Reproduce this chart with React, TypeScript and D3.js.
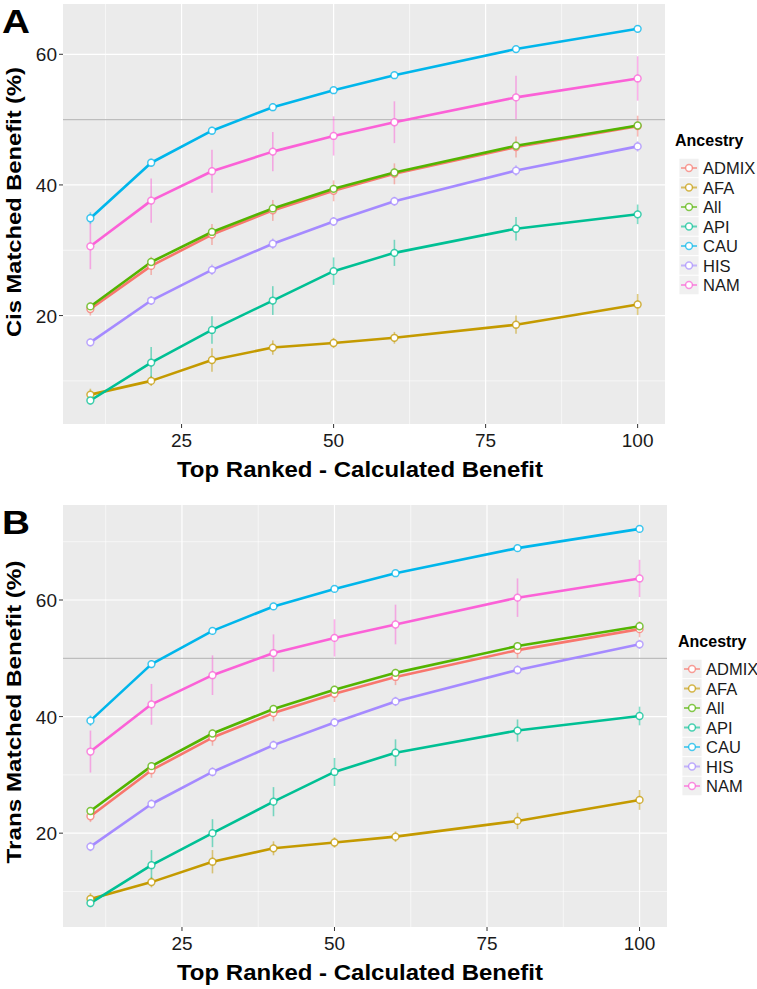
import React, { useEffect, useRef } from "react";
import * as d3 from "d3";

const ranks = [10, 20, 30, 40, 50, 60, 80, 100];
const ancestries = ["ADMIX", "AFA", "All", "API", "CAU", "HIS", "NAM"];
const colors = ["#F8766D", "#C49A00", "#53B400", "#00C094", "#00B6EB", "#A58AFF", "#FB61D7"];
const xTicks = [25, 50, 75, 100];
const xMinor = [12.5, 37.5, 62.5, 87.5];
const yTicks = [20, 40, 60];
const yMinor = [10, 30, 50, 70];

// A: cis matched benefit (%)
const cisADMIX = [21.0, 27.6, 32.4, 36.1, 39.1, 41.7, 45.8, 49.0];
const cisAFA = [7.9, 10.0, 13.2, 15.1, 15.8, 16.6, 18.6, 21.7];
const cisAll = [21.4, 28.2, 32.8, 36.4, 39.4, 41.9, 46.0, 49.1];
const cisAPI = [7.0, 12.8, 17.8, 22.3, 26.8, 29.6, 33.3, 35.5];
const cisCAU = [34.9, 43.4, 48.3, 51.9, 54.5, 56.8, 60.8, 63.9];
const cisHIS = [15.9, 22.3, 27.0, 31.0, 34.4, 37.5, 42.2, 45.9];
const cisNAM = [30.6, 37.6, 42.1, 45.1, 47.5, 49.6, 53.4, 56.3];

const cisErrADMIX = [1.0, 1.4, 1.6, 1.6, 1.6, 1.6, 1.6, 1.6];
const cisErrAFA = [0.9, 0.8, 1.8, 1.1, 0.8, 0.9, 1.4, 1.6];
const cisErrAll = [0.4, 0.5, 0.5, 0.5, 0.5, 0.5, 0.5, 0.5];
const cisErrAPI = [0.6, 2.4, 2.1, 2.2, 2.1, 2.0, 1.8, 1.5];
const cisErrCAU = [0.9, 0.6, 0.6, 0.6, 0.5, 0.5, 0.5, 0.5];
const cisErrHIS = [0.6, 0.7, 0.8, 0.8, 0.7, 0.7, 0.8, 0.8];
const cisErrNAM = [3.5, 3.4, 3.3, 3.0, 3.0, 3.2, 3.3, 3.4];

// B: trans matched benefit (%)
const transADMIX = [22.9, 30.8, 36.4, 40.6, 43.9, 46.8, 51.4, 55.0];
const transAFA = [8.7, 11.6, 15.1, 17.4, 18.4, 19.4, 22.1, 25.7];
const transAll = [23.8, 31.5, 37.1, 41.3, 44.6, 47.5, 52.1, 55.5];
const transAPI = [8.0, 14.5, 20.0, 25.4, 30.5, 33.8, 37.6, 40.1];
const transCAU = [39.3, 49.0, 54.7, 58.9, 61.9, 64.6, 68.9, 72.2];
const transHIS = [17.7, 25.0, 30.5, 35.1, 39.0, 42.6, 48.0, 52.4];
const transNAM = [34.0, 42.1, 47.1, 50.9, 53.5, 55.8, 60.4, 63.7];

const transErrADMIX = [1.0, 1.3, 1.4, 1.4, 1.4, 1.4, 1.4, 1.4];
const transErrAFA = [1.0, 0.9, 2.0, 1.2, 0.9, 0.9, 1.4, 1.7];
const transErrAll = [0.5, 0.5, 0.5, 0.5, 0.5, 0.5, 0.5, 0.5];
const transErrAPI = [0.7, 2.6, 2.4, 2.5, 2.4, 2.3, 1.9, 1.6];
const transErrCAU = [0.9, 0.7, 0.6, 0.6, 0.5, 0.5, 0.5, 0.5];
const transErrHIS = [0.8, 0.8, 0.8, 0.8, 0.8, 0.8, 0.8, 0.8];
const transErrNAM = [3.6, 3.5, 3.4, 3.2, 3.2, 3.4, 3.3, 3.2];

const FONT = "'Liberation Sans', Arial, sans-serif";

function drawPanel(svg, p) {
  const g = svg.append("g");
  const x = d3.scaleLinear().domain([5.5, 104.5]).range([p.left, p.right]);
  const y = d3.scaleLinear().domain(p.yDomain).range([p.bottom, p.top]);

  g.append("rect")
    .attr("x", p.left)
    .attr("y", p.top)
    .attr("width", p.right - p.left)
    .attr("height", p.bottom - p.top)
    .attr("fill", "#EBEBEB");

  const yMin = yMinor.filter((v) => v > p.yDomain[0] && v < p.yDomain[1]);
  g.selectAll(".ymin").data(yMin).join("line")
    .attr("x1", p.left).attr("x2", p.right)
    .attr("y1", (d) => y(d)).attr("y2", (d) => y(d))
    .attr("stroke", "#fff").attr("stroke-width", 0.6);
  g.selectAll(".xmin").data(xMinor).join("line")
    .attr("x1", (d) => x(d)).attr("x2", (d) => x(d))
    .attr("y1", p.top).attr("y2", p.bottom)
    .attr("stroke", "#fff").attr("stroke-width", 0.6);
  g.selectAll(".ymaj").data(yTicks).join("line")
    .attr("x1", p.left).attr("x2", p.right)
    .attr("y1", (d) => y(d)).attr("y2", (d) => y(d))
    .attr("stroke", "#fff").attr("stroke-width", 1.2);
  g.selectAll(".xmaj").data(xTicks).join("line")
    .attr("x1", (d) => x(d)).attr("x2", (d) => x(d))
    .attr("y1", p.top).attr("y2", p.bottom)
    .attr("stroke", "#fff").attr("stroke-width", 1.2);

  // reference line at 50%
  g.append("line")
    .attr("x1", p.left).attr("x2", p.right)
    .attr("y1", y(50)).attr("y2", y(50))
    .attr("stroke", "#BDBDBD").attr("stroke-width", 1.3);

  const line = d3.line().x((d, i) => x(ranks[i])).y((d) => y(d));

  p.series.forEach((s, k) => {
    const c = colors[k];
    g.selectAll(null).data(s.values).join("line")
      .attr("x1", (d, i) => x(ranks[i])).attr("x2", (d, i) => x(ranks[i]))
      .attr("y1", (d, i) => y(d - s.err[i])).attr("y2", (d, i) => y(d + s.err[i]))
      .attr("stroke", c).attr("stroke-opacity", 0.5).attr("stroke-width", 1.6);
    g.append("path")
      .attr("d", line(s.values))
      .attr("fill", "none").attr("stroke", c).attr("stroke-width", 2.6)
      .attr("stroke-linejoin", "round");
  });
  p.series.forEach((s, k) => {
    const c = colors[k];
    g.selectAll(null).data(s.values).join("circle")
      .attr("cx", (d, i) => x(ranks[i])).attr("cy", (d) => y(d))
      .attr("r", 3.4)
      .attr("fill", "#fff").attr("stroke", c).attr("stroke-opacity", 0.75)
      .attr("stroke-width", 1.5);
  });

  // axes ticks and labels
  g.selectAll(".yt").data(yTicks).join("line")
    .attr("x1", p.left - 4).attr("x2", p.left)
    .attr("y1", (d) => y(d)).attr("y2", (d) => y(d))
    .attr("stroke", "#333").attr("stroke-width", 1);
  g.selectAll(".yl").data(yTicks).join("text")
    .attr("x", p.left - 6).attr("y", (d) => y(d) + 7)
    .attr("text-anchor", "end")
    .style("font", `19px ${FONT}`).attr("fill", "#1a1a1a")
    .text((d) => d);
  g.selectAll(".xt").data(xTicks).join("line")
    .attr("x1", (d) => x(d)).attr("x2", (d) => x(d))
    .attr("y1", p.bottom).attr("y2", p.bottom + 4)
    .attr("stroke", "#333").attr("stroke-width", 1);
  g.selectAll(".xl").data(xTicks).join("text")
    .attr("x", (d) => x(d)).attr("y", p.bottom + 23)
    .attr("text-anchor", "middle")
    .style("font", `19px ${FONT}`).attr("fill", "#1a1a1a")
    .text((d) => d);

  g.append("text")
    .attr("x", 177).attr("y", p.bottom + 53)
    .attr("textLength", 366).attr("lengthAdjust", "spacingAndGlyphs")
    .style("font", `bold 22px ${FONT}`)
    .text("Top Ranked - Calculated Benefit");
  g.append("text")
    .attr("transform", `translate(21,${p.yTitleMid}) rotate(-90)`)
    .attr("x", -p.yTitleLen / 2)
    .attr("textLength", p.yTitleLen).attr("lengthAdjust", "spacingAndGlyphs")
    .style("font", `bold 21px ${FONT}`)
    .text(p.yTitle);
  g.append("text")
    .attr("x", 2).attr("y", p.top + 29)
    .attr("textLength", 28).attr("lengthAdjust", "spacingAndGlyphs")
    .style("font", `bold 33px ${FONT}`)
    .text(p.tag);

  // legend
  const lg = g.append("g").attr("transform", `translate(${p.legendX},${p.legendY})`);
  lg.append("text").attr("x", 0).attr("y", 0)
    .style("font", `bold 16px ${FONT}`).text("Ancestry");
  const rowH = 19.5;
  ancestries.forEach((a, k) => {
    const cy = 22 + k * rowH;
    lg.append("rect")
      .attr("x", 4).attr("y", cy - rowH / 2)
      .attr("width", 20).attr("height", rowH)
      .attr("fill", "#F0F0F0").attr("stroke", "#fff").attr("stroke-width", 0.8);
    lg.append("line")
      .attr("x1", 6).attr("x2", 22).attr("y1", cy).attr("y2", cy)
      .attr("stroke", colors[k]).attr("stroke-opacity", 0.6).attr("stroke-width", 2);
    lg.append("circle")
      .attr("cx", 14).attr("cy", cy).attr("r", 3.4)
      .attr("fill", "#fff").attr("stroke", colors[k]).attr("stroke-opacity", 0.7)
      .attr("stroke-width", 1.5);
    lg.append("text")
      .attr("x", 28).attr("y", cy + 6)
      .style("font", `16.5px ${FONT}`).attr("fill", "#1a1a1a")
      .text(a);
  });
}

export default function App() {
  const svgRef = useRef(null);

  useEffect(() => {
    const svg = d3.select(svgRef.current);
    svg.selectAll("*").remove();

    drawPanel(svg, {
      tag: "A",
      yTitle: "Cis Matched Benefit (%)",
      yTitleMid: 202, yTitleLen: 270,
      left: 63, right: 665, top: 4, bottom: 424,
      yDomain: [3.4, 67.7],
      legendX: 675, legendY: 146,
      series: [
        { values: cisADMIX, err: cisErrADMIX },
        { values: cisAFA, err: cisErrAFA },
        { values: cisAll, err: cisErrAll },
        { values: cisAPI, err: cisErrAPI },
        { values: cisCAU, err: cisErrCAU },
        { values: cisHIS, err: cisErrHIS },
        { values: cisNAM, err: cisErrNAM },
      ],
    });
    drawPanel(svg, {
      tag: "B",
      yTitle: "Trans Matched Benefit (%)",
      yTitleMid: 712, yTitleLen: 303,
      left: 63, right: 667, top: 505, bottom: 927,
      yDomain: [3.9, 76.3],
      legendX: 678, legendY: 647,
      series: [
        { values: transADMIX, err: transErrADMIX },
        { values: transAFA, err: transErrAFA },
        { values: transAll, err: transErrAll },
        { values: transAPI, err: transErrAPI },
        { values: transCAU, err: transErrCAU },
        { values: transHIS, err: transErrHIS },
        { values: transNAM, err: transErrNAM },
      ],
    });
  }, []);

  return (
    <svg
      ref={svgRef}
      width={757}
      height={989}
      style={{ position: "absolute", left: 0, top: 0, background: "#fff" }}
    ></svg>
  );
}
